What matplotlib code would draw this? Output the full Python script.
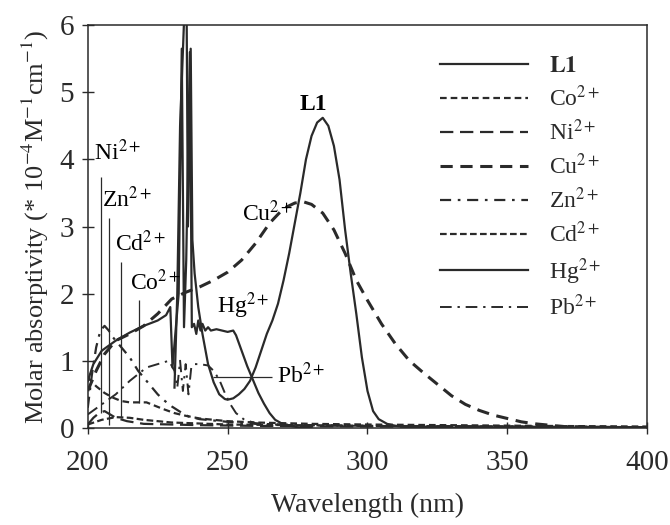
import numpy as np
import matplotlib
matplotlib.use("Agg")
import matplotlib.pyplot as plt

plt.rcParams["font.family"] = ["Liberation Serif", "DejaVu Serif"]
plt.rcParams["mathtext.fontset"] = "stix"

# --- data (wavelength nm, molar absorptivity *1e4) ---
l1_wl = [231, 232, 233, 234, 234.8, 235.3, 235.8, 236.3, 236.8, 237.4, 238.2, 239.5, 241, 243, 245,
         247, 249, 250, 252, 254, 256, 258, 260, 262, 264, 266, 268, 270, 272, 274, 276, 278, 280,
         282, 284, 286, 288, 290, 292, 294, 296, 298, 300, 302, 304, 307, 310, 315, 320, 400]
l1_abs = [0.6, 2.0, 4.5, 5.6, 6.5, 6.5, 3.0, 4.0, 5.65, 2.8, 2.3, 1.8, 1.4, 0.95, 0.68,
          0.5, 0.43, 0.42, 0.44, 0.5, 0.58, 0.7, 0.9, 1.15, 1.4, 1.6, 1.85, 2.2, 2.6, 3.05, 3.5, 4.0, 4.35,
          4.55, 4.62, 4.5, 4.2, 3.7, 2.95, 2.3, 1.7, 1.05, 0.55, 0.25, 0.13, 0.06, 0.03, 0.01, 0.0, 0.0]

co_wl = [200, 203, 206, 209, 212, 215, 218, 221, 224, 227, 231, 235, 240, 250, 260, 280, 300, 330, 360, 400]
co_abs = [0.75, 0.62, 0.52, 0.45, 0.4, 0.38, 0.38, 0.38, 0.33, 0.28, 0.22, 0.18, 0.14, 0.1, 0.08, 0.06,
          0.05, 0.04, 0.03, 0.02]

ni_wl = [200, 202, 204, 206, 208, 210, 214, 220, 230, 240, 260, 300, 400]
ni_abs = [0.05, 0.15, 0.22, 0.25, 0.2, 0.15, 0.1, 0.06, 0.05, 0.04, 0.03, 0.02, 0.01]

cu_wl = [200, 203, 206, 210, 215, 220, 225, 230, 235, 240, 245, 250, 255, 260, 265, 270, 274, 277, 280,
         284, 288, 292, 296, 300, 305, 310, 315, 320, 325, 330, 335, 340, 345, 350, 355, 360, 365, 370,
         380, 400]
cu_abs = [0.55, 0.85, 1.1, 1.3, 1.4, 1.52, 1.7, 1.92, 2.02, 2.1, 2.2, 2.32, 2.5, 2.75, 3.05, 3.27, 3.35,
          3.37, 3.33, 3.2, 2.95, 2.6, 2.2, 1.9, 1.55, 1.25, 1.0, 0.82, 0.65, 0.48, 0.35, 0.26, 0.19, 0.14,
          0.09, 0.06, 0.04, 0.02, 0.01, 0.0]

zn_wl = [200, 201.5, 203, 204.5, 206, 207.5, 209, 211, 213, 215, 218, 220, 222, 225, 227, 230, 233, 236,
         240, 250, 260, 280, 300, 350, 400]
zn_abs = [0.3, 0.8, 1.2, 1.45, 1.52, 1.45, 1.35, 1.25, 1.15, 1.05, 0.85, 0.75, 0.65, 0.5, 0.42, 0.32,
          0.24, 0.17, 0.13, 0.09, 0.06, 0.04, 0.03, 0.02, 0.01]

cd_wl = [200, 205, 210, 215, 220, 230, 250, 300, 400]
cd_abs = [0.05, 0.12, 0.16, 0.15, 0.12, 0.08, 0.05, 0.03, 0.01]

hg_wl = [200, 202, 205, 210, 215, 220, 225, 228, 229.5, 230.3, 231.3, 232.5, 233.6, 234.4, 235.2, 236.5,
         237.2, 238, 238.8, 239.5, 240.3, 241, 242, 243, 244, 246, 248, 250, 252, 253, 255, 257, 259,
         261, 263, 265, 267, 270, 275, 280]
hg_abs = [0.7, 0.95, 1.15, 1.3, 1.42, 1.52, 1.6, 1.68, 1.8, 0.9, 1.4, 2.0, 5.65, 1.5, 2.5, 5.6,
          1.5, 1.55, 1.4, 1.6, 1.45, 1.55, 1.45, 1.5, 1.45, 1.47, 1.45, 1.43, 1.45, 1.38, 1.15, 0.92, 0.72,
          0.52, 0.36, 0.22, 0.12, 0.05, 0.01, 0.0]

pb_wl = [200, 205, 210, 215, 218, 221, 225, 229, 231, 232, 233, 234, 235, 236, 237, 238, 240, 243, 245,
         247, 249, 251, 253, 256, 260, 270, 300, 400]
pb_abs = [0.2, 0.35, 0.5, 0.7, 0.8, 0.9, 0.95, 1.0, 0.85, 0.6, 1.0, 0.55, 0.95, 0.5, 0.9, 0.95, 0.95,
          0.93, 0.85, 0.72, 0.52, 0.35, 0.22, 0.12, 0.07, 0.04, 0.03, 0.01]

ink = "#2a2a2a"

fig = plt.figure(figsize=(6.7, 5.25), dpi=100)
ax = fig.add_axes([0.131, 0.185, 0.835, 0.767])

ax.plot(l1_wl, l1_abs, color=ink, lw=1.6, ls="-", label=r"$\mathbf{L1}$")
ax.plot(co_wl, co_abs, color=ink, lw=1.6, ls=(0, (3, 1.8)), label=r"Co$^{2+}$")
ax.plot(ni_wl, ni_abs, color=ink, lw=1.6, ls=(0, (6, 3)), label=r"Ni$^{2+}$")
ax.plot(cu_wl, cu_abs, color=ink, lw=2.2, ls=(0, (4, 2.5)), label=r"Cu$^{2+}$")
ax.plot(zn_wl, zn_abs, color=ink, lw=1.6, ls=(0, (5, 3, 1.2, 3)), label=r"Zn$^{2+}$")
ax.plot(cd_wl, cd_abs, color=ink, lw=1.6, ls=(0, (3, 1.5)), label=r"Cd$^{2+}$")
ax.plot(hg_wl, hg_abs, color=ink, lw=1.6, ls="-", label=r"Hg$^{2+}$")
ax.plot(pb_wl, pb_abs, color=ink, lw=1.4, ls=(0, (6, 3, 1.2, 3)), label=r"Pb$^{2+}$")

# leader lines and curve labels
ax.vlines([204.9, 207.5, 212.0, 218.4], [0.22, 0.05, 0.16, 0.37], [3.74, 3.12, 2.47, 1.9],
          color=ink, lw=0.9)
ax.hlines(0.76, 244.7, 266.0, color=ink, lw=0.9)

lab_fs = 17
ax.text(202.3, 4.1, r"Ni$^{2+}$", fontsize=lab_fs, va="center", ha="left")
ax.text(205.2, 3.4, r"Zn$^{2+}$", fontsize=lab_fs, va="center", ha="left")
ax.text(209.6, 2.75, r"Cd$^{2+}$", fontsize=lab_fs, va="center", ha="left")
ax.text(215.0, 2.17, r"Co$^{2+}$", fontsize=lab_fs, va="center", ha="left")
ax.text(246.3, 1.82, r"Hg$^{2+}$", fontsize=lab_fs, va="center", ha="left")
ax.text(255.3, 3.2, r"Cu$^{2+}$", fontsize=lab_fs, va="center", ha="left")
ax.text(267.6, 0.78, r"Pb$^{2+}$", fontsize=lab_fs, va="center", ha="left")
ax.text(280.5, 4.82, "L1", fontsize=lab_fs, fontweight="bold", va="center", ha="center")

ax.set_xlim(200, 400)
ax.set_ylim(0, 6)
ax.set_xticks(np.arange(200, 401, 50))
ax.set_yticks(np.arange(0, 7, 1))
ax.tick_params(direction="inout", length=8, width=1, labelsize=21, colors=ink)
ax.tick_params(axis="x", pad=12)
ax.tick_params(axis="y", pad=6)
for sp in ax.spines.values():
    sp.set_color(ink)
    sp.set_linewidth(1.1)

ax.set_xlabel("Wavelength (nm)", fontsize=20, color=ink, labelpad=12)
ax.set_ylabel(r"Molar absorptivity (* 10$^{-4}$M$^{-1}$cm$^{-1}$)", fontsize=19, color=ink, labelpad=6)

leg = ax.legend(loc="upper left", bbox_to_anchor=(0.63, 0.925), frameon=False, fontsize=17,
                handlelength=3.7, handletextpad=0.9, labelspacing=0.36, borderpad=0, borderaxespad=0)
for t in leg.get_texts():
    t.set_color(ink)

fig.savefig("out.png", dpi=100)
